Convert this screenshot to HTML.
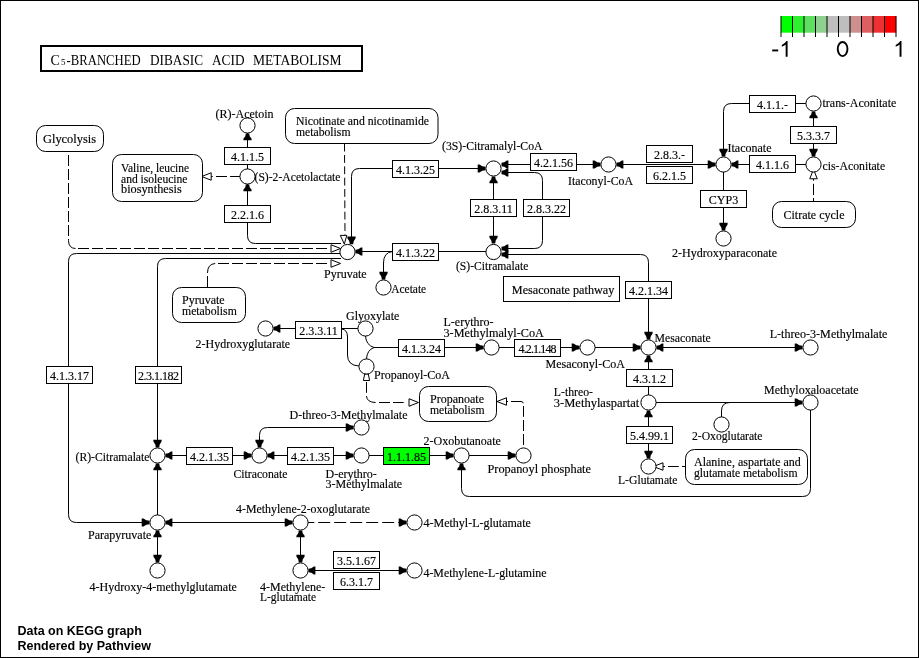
<!DOCTYPE html>
<html><head><meta charset="utf-8"><title>C5-Branched dibasic acid metabolism</title>
<style>
html,body{margin:0;padding:0;background:#fff;}
body{width:919px;height:658px;overflow:hidden;}
svg{display:block;font-family:"Liberation Serif",serif;font-size:12px;}
svg text{fill:#000;stroke:none;}
.t text{stroke:#000;stroke-width:0.15px;}
.e path{fill:none;stroke:#000;stroke-width:1;}
.e path.d{stroke-dasharray:12 4;}
.e path.d2{stroke-dasharray:7.8 3.54;}
.c{fill:#fff;stroke:#000;stroke-width:1;}
.b{fill:#fff;stroke:#000;stroke-width:1;}
.a{fill:#000;stroke:none;}
.bw{filter:grayscale(1);}
.o{fill:#fff;stroke:#000;stroke-width:1;}
.key{font-family:"Liberation Sans",sans-serif;font-size:21.5px;}
.ttl{font-size:14px;}
.ft{font-family:"Liberation Sans",sans-serif;font-weight:bold;font-size:12.5px;}
</style></head>
<body>
<svg width="919" height="658" viewBox="0 0 919 658">
<rect x="0.5" y="0.5" width="918" height="657" fill="#fff" stroke="#000"/>
<rect x="781.0" y="16" width="11.7" height="16.700000000000003" fill="#00ff00" stroke="none"/>
<rect x="792.5" y="16" width="11.7" height="16.700000000000003" fill="#30ef30" stroke="none"/>
<rect x="804.0" y="16" width="11.7" height="16.700000000000003" fill="#5fdf5f" stroke="none"/>
<rect x="815.5" y="16" width="11.7" height="16.700000000000003" fill="#8fcf8f" stroke="none"/>
<rect x="827.0" y="16" width="11.7" height="16.700000000000003" fill="#bebebe" stroke="none"/>
<rect x="838.5" y="16" width="11.7" height="16.700000000000003" fill="#bebebe" stroke="none"/>
<rect x="850.0" y="16" width="11.7" height="16.700000000000003" fill="#ce8f8f" stroke="none"/>
<rect x="861.5" y="16" width="11.7" height="16.700000000000003" fill="#de5f5f" stroke="none"/>
<rect x="873.0" y="16" width="11.7" height="16.700000000000003" fill="#ee3030" stroke="none"/>
<rect x="884.5" y="16" width="11.7" height="16.700000000000003" fill="#ff0000" stroke="none"/>
<line x1="781.0" y1="16" x2="781.0" y2="37" stroke="#000" stroke-width="1"/>
<line x1="792.5" y1="16" x2="792.5" y2="37" stroke="#000" stroke-width="1"/>
<line x1="804.0" y1="16" x2="804.0" y2="37" stroke="#000" stroke-width="1"/>
<line x1="815.5" y1="16" x2="815.5" y2="37" stroke="#000" stroke-width="1"/>
<line x1="827.0" y1="16" x2="827.0" y2="37" stroke="#000" stroke-width="1"/>
<line x1="838.5" y1="16" x2="838.5" y2="37" stroke="#000" stroke-width="1"/>
<line x1="850.0" y1="16" x2="850.0" y2="37" stroke="#000" stroke-width="1"/>
<line x1="861.5" y1="16" x2="861.5" y2="37" stroke="#000" stroke-width="1"/>
<line x1="873.0" y1="16" x2="873.0" y2="37" stroke="#000" stroke-width="1"/>
<line x1="884.5" y1="16" x2="884.5" y2="37" stroke="#000" stroke-width="1"/>
<line x1="896.0" y1="16" x2="896.0" y2="37" stroke="#000" stroke-width="1"/>
<rect x="772.2" y="49.5" width="6" height="1.9" fill="#000"/>
<path d="M787.60 56.80 H785.66 V44.48 Q784.96 45.14 783.83 45.81 Q782.70 46.48 781.80 46.81 V44.94 Q783.42 44.18 784.63 43.09 Q785.85 42.01 786.35 40.99 H787.60 Z" fill="#000"/>
<ellipse cx="842.6" cy="49.05" rx="4.85" ry="7.1" fill="none" stroke="#000" stroke-width="1.9"/>
<path d="M901.50 56.80 H899.56 V44.48 Q898.86 45.14 897.73 45.81 Q896.60 46.48 895.70 46.81 V44.94 Q897.32 44.18 898.53 43.09 Q899.75 42.01 900.25 40.99 H901.50 Z" fill="#000"/>
<g class="bw">
<rect x="41" y="46" width="321" height="25" fill="#fff" stroke="#000" stroke-width="2"/>
<g class="ttl">
<text x="50.5" y="65">C</text>
<text x="61" y="65" style="font-size:9px">5</text>
<text x="66.5" y="65" textLength="74.2" lengthAdjust="spacingAndGlyphs">-BRANCHED</text>
<text x="150" y="65" textLength="53" lengthAdjust="spacingAndGlyphs">DIBASIC</text>
<text x="212" y="65" textLength="32.5" lengthAdjust="spacingAndGlyphs">ACID</text>
<text x="253" y="65" textLength="88.5" lengthAdjust="spacingAndGlyphs">METABOLISM</text>
</g>
<g class="e">
<path d="M247.5 184 V205 M247.5 133 V147.5 M247.5 164.5 V169"/>
<path d="M247.5 222.5 V235.5 Q247.5 243.5 255.5 243.5 H341"/>
<path d="M210.7 176.5 H212.7 M216 176.5 H227 M230 176.5 H240"/>
<path d="M68.5 155 V166 M68.5 169 V180 M68.5 183 V194 M68.5 197 V208 M68.5 211 V222 M68.5 225 V236 M68.5 239 V240.5 Q68.5 248.3 75.5 248.5 M78 248.5 H89 M92 248.5 H103 M106 248.5 H117 M120 248.5 H131 M134 248.5 H145 M148 248.5 H159 M162 248.5 H173 M176 248.5 H187 M190 248.5 H201 M204 248.5 H215 M218 248.5 H229 M232 248.5 H243 M246 248.5 H257 M260 248.5 H271 M274 248.5 H285 M288 248.5 H299 M302 248.5 H313 M316 248.5 H327"/>
<path d="M344.5 143.7 L345 235" class="d2"/>
<path d="M392.5 168.5 H359.5 Q351.5 168.5 351.5 176.5 V237"/>
<path d="M438.5 168.5 H479"/>
<path d="M392.5 251.5 H360"/>
<path d="M392.5 251.5 Q383.5 252.5 383.5 263 V273"/>
<path d="M438.5 251.5 H486"/>
<path d="M493.5 182 V199.5 M493.5 216.5 V238"/>
<path d="M530.5 164.5 H506 M576.5 164.5 H594"/>
<path d="M506 172.5 H534.5 Q542.5 172.5 542.5 180.5 V199.5 M542.5 216.5 V240.5 Q542.5 248.5 534.5 248.5 H506"/>
<path d="M621 164.5 H709"/>
<path d="M806 164.5 H795.5 M749.5 164.5 H737"/>
<path d="M806 103.5 H795.5 M749.5 103.5 H731.5 Q723.5 103.5 723.5 111.5 V150"/>
<path d="M813.5 116 V126.5 M813.5 143.5 V150"/>
<path d="M723.5 172 V190.5 M723.5 207.5 V224"/>
<path d="M813.5 178.8 V180.7 M813.5 183.8 V195.1 M813.5 198 V201.5"/>
<path d="M506 254.5 H640.5 Q648.5 254.5 648.5 262.5 V281.5 M648.5 298.5 V333"/>
<path d="M295.5 328.5 H278 M341.5 328.5 H358"/>
<path d="M341.5 329 Q347.5 329.5 347.5 337 V355 Q347.5 365.5 359 366"/>
<path d="M365.5 336 Q366 345 374 347.5 H398.5"/>
<path d="M366.5 359 Q367 350 374 347.5"/>
<path d="M444.5 347.5 H477 M499 347.5 H514.5 M560.5 347.5 H573 M595 347.5 H634 M661 347.5 H796"/>
<path d="M648.5 360 V369.5 M648.5 386.5 V395 M648.5 415 V426.5 M648.5 443.5 V452"/>
<path d="M656 402.5 H796"/>
<path d="M721.5 417 V411 Q721.5 402.5 730 402.5"/>
<path d="M663 466.5 H665 M668 466.5 H678.8 M682 466.5 H685.5"/>
<path d="M810.5 410 V488.5 Q810.5 496.5 802.5 496.5 H469.5 Q461.5 496.5 461.5 488.5 V468"/>
<path d="M369 455.5 H383.5 M429.5 455.5 H447 M469 455.5 H509"/>
<path d="M506.2 401.5 H508 M511 401.5 H521 Q523 401.5 523.3 403.3 M523.5 406 V416.8 M523.5 420 V431 M523.5 434 V445"/>
<path d="M366.5 382 V392.8 M366.5 396 Q366.8 402.3 375.6 402.5 M379 402.5 H390 M393 402.5 H403.7"/>
<path d="M170 455.5 H186.5 M232.5 455.5 H245 M272 455.5 H287.5 M333.5 455.5 H347"/>
<path d="M259.5 441 V435.5 Q259.5 427.5 267.5 427.5 H347"/>
<path d="M341 258.5 H165.5 Q157.5 258.5 157.5 266.5 V366.5 M157.5 383.5 V441"/>
<path d="M340 253.5 H76.5 Q68.5 253.5 68.5 261.5 V366.5 M68.5 383.5 V514.5 Q68.5 522.5 76.5 522.5 H143"/>
<path d="M157.5 468 V515 M157.5 535 V556"/>
<path d="M170 522.5 H286"/>
<path d="M308 522.5 H314.3 M318.2 522.5 H330.2 M334.2 522.5 H346.2 M350.2 522.5 H362.2 M366.2 522.5 H378.2 M382.2 522.5 H394.2 M398.2 522.5 H400"/>
<path d="M300.5 535 V556"/>
<path d="M313 570.5 H400"/>
<path d="M207.5 287.5 V276 M207.5 273 Q207.5 264 215.2 263.5 M218 263.5 H229 M232 263.5 H243 M246 263.5 H257 M260 263.5 H271 M274 263.5 H285 M288 263.5 H299 M302 263.5 H313 M316 263.5 H327"/>
</g>
<polygon points="245.80,133.50 245.30,136.18 243.40,138.73 243.40,140.20 251.60,140.20 251.60,138.73 249.70,136.18 249.20,133.50" class="a"/>
<polygon points="245.80,184.50 245.30,187.18 243.40,189.73 243.40,191.20 251.60,191.20 251.60,189.73 249.70,187.18 249.20,184.50" class="a"/>
<polygon points="201.7,176.5 211.2,172.75 211.2,180.25" class="o"/>
<polygon points="340.5,248.5 331.0,244.75 331.0,252.25" class="o"/>
<polygon points="340.5,263.5 331.0,259.75 331.0,267.25" class="o"/>
<polygon points="344.3,244 340.3,235.4 346.8,235.4" class="o"/>
<polygon points="349.80,244.30 349.30,241.22 347.40,238.29 347.40,236.60 355.60,236.60 355.60,238.29 353.70,241.22 353.20,244.30" class="a"/>
<polygon points="485.50,166.80 482.38,166.30 479.42,164.40 477.70,164.40 477.70,172.60 479.42,172.60 482.38,170.70 485.50,170.20" class="a"/>
<polygon points="355.50,249.80 358.26,249.30 360.88,247.40 362.40,247.40 362.40,255.60 360.88,255.60 358.26,253.70 355.50,253.20" class="a"/>
<polygon points="381.80,279.50 381.30,276.42 379.40,273.49 379.40,271.80 387.60,271.80 387.60,273.49 385.70,276.42 385.20,279.50" class="a"/>
<polygon points="491.80,176.50 491.30,179.18 489.40,181.73 489.40,183.20 497.60,183.20 497.60,181.73 495.70,179.18 495.20,176.50" class="a"/>
<polygon points="491.80,243.50 491.30,240.42 489.40,237.49 489.40,235.80 497.60,235.80 497.60,237.49 495.70,240.42 495.20,243.50" class="a"/>
<polygon points="501.50,162.80 504.26,162.30 506.88,160.40 508.40,160.40 508.40,168.60 506.88,168.60 504.26,166.70 501.50,166.20" class="a"/>
<polygon points="600.50,162.80 597.38,162.30 594.42,160.40 592.70,160.40 592.70,168.60 594.42,168.60 597.38,166.70 600.50,166.20" class="a"/>
<polygon points="501.50,170.80 504.26,170.30 506.88,168.40 508.40,168.40 508.40,176.60 506.88,176.60 504.26,174.70 501.50,174.20" class="a"/>
<polygon points="501.50,246.80 504.26,246.30 506.88,244.40 508.40,244.40 508.40,252.60 506.88,252.60 504.26,250.70 501.50,250.20" class="a"/>
<polygon points="501.50,252.80 504.26,252.30 506.88,250.40 508.40,250.40 508.40,258.60 506.88,258.60 504.26,256.70 501.50,256.20" class="a"/>
<polygon points="616.50,162.80 619.26,162.30 621.88,160.40 623.40,160.40 623.40,168.60 621.88,168.60 619.26,166.70 616.50,166.20" class="a"/>
<polygon points="715.50,162.80 712.38,162.30 709.42,160.40 707.70,160.40 707.70,168.60 709.42,168.60 712.38,166.70 715.50,166.20" class="a"/>
<polygon points="731.50,162.80 734.26,162.30 736.88,160.40 738.40,160.40 738.40,168.60 736.88,168.60 734.26,166.70 731.50,166.20" class="a"/>
<polygon points="721.80,156.50 721.30,153.42 719.40,150.49 719.40,148.80 727.60,148.80 727.60,150.49 725.70,153.42 725.20,156.50" class="a"/>
<polygon points="811.80,111.50 811.30,114.18 809.40,116.73 809.40,118.20 817.60,118.20 817.60,116.73 815.70,114.18 815.20,111.50" class="a"/>
<polygon points="811.80,156.50 811.30,153.42 809.40,150.49 809.40,148.80 817.60,148.80 817.60,150.49 815.70,153.42 815.20,156.50" class="a"/>
<polygon points="721.80,230.50 721.30,227.42 719.40,224.49 719.40,222.80 727.60,222.80 727.60,224.49 725.70,227.42 725.20,230.50" class="a"/>
<polygon points="813.5,169.3 809.75,178.8 817.25,178.8" class="o"/>
<polygon points="646.80,339.50 646.30,336.42 644.40,333.49 644.40,331.80 652.60,331.80 652.60,333.49 650.70,336.42 650.20,339.50" class="a"/>
<polygon points="273.50,326.80 276.26,326.30 278.88,324.40 280.40,324.40 280.40,332.60 278.88,332.60 276.26,330.70 273.50,330.20" class="a"/>
<polygon points="483.50,345.80 480.38,345.30 477.42,343.40 475.70,343.40 475.70,351.60 477.42,351.60 480.38,349.70 483.50,349.20" class="a"/>
<polygon points="579.50,345.80 576.38,345.30 573.42,343.40 571.70,343.40 571.70,351.60 573.42,351.60 576.38,349.70 579.50,349.20" class="a"/>
<polygon points="640.50,345.80 637.38,345.30 634.42,343.40 632.70,343.40 632.70,351.60 634.42,351.60 637.38,349.70 640.50,349.20" class="a"/>
<polygon points="656.50,345.80 659.26,345.30 661.88,343.40 663.40,343.40 663.40,351.60 661.88,351.60 659.26,349.70 656.50,349.20" class="a"/>
<polygon points="802.50,345.80 799.38,345.30 796.42,343.40 794.70,343.40 794.70,351.60 796.42,351.60 799.38,349.70 802.50,349.20" class="a"/>
<polygon points="646.80,355.50 646.30,358.18 644.40,360.73 644.40,362.20 652.60,362.20 652.60,360.73 650.70,358.18 650.20,355.50" class="a"/>
<polygon points="646.80,410.50 646.30,413.18 644.40,415.73 644.40,417.20 652.60,417.20 652.60,415.73 650.70,413.18 650.20,410.50" class="a"/>
<polygon points="646.80,458.50 646.30,455.42 644.40,452.49 644.40,450.80 652.60,450.80 652.60,452.49 650.70,455.42 650.20,458.50" class="a"/>
<polygon points="802.50,400.80 799.38,400.30 796.42,398.40 794.70,398.40 794.70,406.60 796.42,406.60 799.38,404.70 802.50,404.20" class="a"/>
<polygon points="653.5,466.5 663.0,462.75 663.0,470.25" class="o"/>
<polygon points="459.80,463.50 459.30,466.18 457.40,468.73 457.40,470.20 465.60,470.20 465.60,468.73 463.70,466.18 463.20,463.50" class="a"/>
<polygon points="453.50,453.80 450.38,453.30 447.42,451.40 445.70,451.40 445.70,459.60 447.42,459.60 450.38,457.70 453.50,457.20" class="a"/>
<polygon points="515.50,453.80 512.38,453.30 509.42,451.40 507.70,451.40 507.70,459.60 509.42,459.60 512.38,457.70 515.50,457.20" class="a"/>
<polygon points="497,401.5 506.5,397.75 506.5,405.25" class="o"/>
<polygon points="418.5,402.5 409.0,398.75 409.0,406.25" class="o"/>
<polygon points="364.7,374 368.3,374 369.6,380.5 363.4,380.5" class="o"/>
<polygon points="165.50,453.80 168.26,453.30 170.88,451.40 172.40,451.40 172.40,459.60 170.88,459.60 168.26,457.70 165.50,457.20" class="a"/>
<polygon points="251.50,453.80 248.38,453.30 245.42,451.40 243.70,451.40 243.70,459.60 245.42,459.60 248.38,457.70 251.50,457.20" class="a"/>
<polygon points="267.50,453.80 270.26,453.30 272.88,451.40 274.40,451.40 274.40,459.60 272.88,459.60 270.26,457.70 267.50,457.20" class="a"/>
<polygon points="353.50,453.80 350.38,453.30 347.42,451.40 345.70,451.40 345.70,459.60 347.42,459.60 350.38,457.70 353.50,457.20" class="a"/>
<polygon points="257.80,447.50 257.30,444.42 255.40,441.49 255.40,439.80 263.60,439.80 263.60,441.49 261.70,444.42 261.20,447.50" class="a"/>
<polygon points="353.50,425.80 350.38,425.30 347.42,423.40 345.70,423.40 345.70,431.60 347.42,431.60 350.38,429.70 353.50,429.20" class="a"/>
<polygon points="155.80,447.50 155.30,444.42 153.40,441.49 153.40,439.80 161.60,439.80 161.60,441.49 159.70,444.42 159.20,447.50" class="a"/>
<polygon points="149.50,520.80 146.38,520.30 143.42,518.40 141.70,518.40 141.70,526.60 143.42,526.60 146.38,524.70 149.50,524.20" class="a"/>
<polygon points="155.80,463.50 155.30,466.18 153.40,468.73 153.40,470.20 161.60,470.20 161.60,468.73 159.70,466.18 159.20,463.50" class="a"/>
<polygon points="155.80,530.50 155.30,533.18 153.40,535.73 153.40,537.20 161.60,537.20 161.60,535.73 159.70,533.18 159.20,530.50" class="a"/>
<polygon points="155.80,562.50 155.30,559.42 153.40,556.49 153.40,554.80 161.60,554.80 161.60,556.49 159.70,559.42 159.20,562.50" class="a"/>
<polygon points="165.50,520.80 168.26,520.30 170.88,518.40 172.40,518.40 172.40,526.60 170.88,526.60 168.26,524.70 165.50,524.20" class="a"/>
<polygon points="292.50,520.80 289.38,520.30 286.42,518.40 284.70,518.40 284.70,526.60 286.42,526.60 289.38,524.70 292.50,524.20" class="a"/>
<polygon points="406.50,520.80 403.38,520.30 400.42,518.40 398.70,518.40 398.70,526.60 400.42,526.60 403.38,524.70 406.50,524.20" class="a"/>
<polygon points="298.80,530.50 298.30,533.18 296.40,535.73 296.40,537.20 304.60,537.20 304.60,535.73 302.70,533.18 302.20,530.50" class="a"/>
<polygon points="298.80,562.50 298.30,559.42 296.40,556.49 296.40,554.80 304.60,554.80 304.60,556.49 302.70,559.42 302.20,562.50" class="a"/>
<polygon points="308.50,568.80 311.26,568.30 313.88,566.40 315.40,566.40 315.40,574.60 313.88,574.60 311.26,572.70 308.50,572.20" class="a"/>
<polygon points="406.50,568.80 403.38,568.30 400.42,566.40 398.70,566.40 398.70,574.60 400.42,574.60 403.38,572.70 406.50,572.20" class="a"/>
<circle cx="247.5" cy="125.5" r="7.6" class="c"/>
<circle cx="247.5" cy="176.5" r="7.6" class="c"/>
<circle cx="347.5" cy="252" r="7.6" class="c"/>
<circle cx="383.5" cy="287.5" r="7.6" class="c"/>
<circle cx="493.5" cy="168.5" r="7.6" class="c"/>
<circle cx="608.5" cy="164.5" r="7.6" class="c"/>
<circle cx="723.5" cy="164.5" r="7.6" class="c"/>
<circle cx="813.5" cy="103.5" r="7.6" class="c"/>
<circle cx="813.5" cy="164.5" r="7.6" class="c"/>
<circle cx="723.5" cy="238.5" r="7.6" class="c"/>
<circle cx="493.5" cy="252" r="7.6" class="c"/>
<circle cx="265.5" cy="328.5" r="7.6" class="c"/>
<circle cx="365.5" cy="328.5" r="7.6" class="c"/>
<circle cx="366.5" cy="366.5" r="7.6" class="c"/>
<circle cx="491.5" cy="347.5" r="7.6" class="c"/>
<circle cx="587.5" cy="347.5" r="7.6" class="c"/>
<circle cx="648.5" cy="347.5" r="7.6" class="c"/>
<circle cx="810.5" cy="347.5" r="7.6" class="c"/>
<circle cx="648.5" cy="402.5" r="7.6" class="c"/>
<circle cx="810.5" cy="402.5" r="7.6" class="c"/>
<circle cx="721.5" cy="424.5" r="7.6" class="c"/>
<circle cx="648.5" cy="466.5" r="7.6" class="c"/>
<circle cx="157.5" cy="455.5" r="7.6" class="c"/>
<circle cx="259.5" cy="455.5" r="7.6" class="c"/>
<circle cx="361.5" cy="427.5" r="7.6" class="c"/>
<circle cx="361.5" cy="455.5" r="7.6" class="c"/>
<circle cx="461.5" cy="455.5" r="7.6" class="c"/>
<circle cx="523.5" cy="455.5" r="7.6" class="c"/>
<circle cx="157.5" cy="522.5" r="7.6" class="c"/>
<circle cx="157.5" cy="570.5" r="7.6" class="c"/>
<circle cx="300.5" cy="522.5" r="7.6" class="c"/>
<circle cx="414.5" cy="522.5" r="7.6" class="c"/>
<circle cx="300.5" cy="570.5" r="7.6" class="c"/>
<circle cx="414.5" cy="570.5" r="7.6" class="c"/>
<g class="t">
<text x="215.5" y="118.2">(R)-Acetoin</text>
<text x="254.5" y="180.5" textLength="86" lengthAdjust="spacingAndGlyphs">(S)-2-Acetolactate</text>
<text x="324" y="277.5">Pyruvate</text>
<text x="391.2" y="292.6" textLength="35" lengthAdjust="spacingAndGlyphs">Acetate</text>
<text x="442" y="150.0" textLength="100.5" lengthAdjust="spacingAndGlyphs">(3S)-Citramalyl-CoA</text>
<text x="568" y="185.0" textLength="65" lengthAdjust="spacingAndGlyphs">Itaconyl-CoA</text>
<text x="727.5" y="151.5">Itaconate</text>
<text x="822.5" y="106.7" textLength="73.8" lengthAdjust="spacingAndGlyphs">trans-Aconitate</text>
<text x="822.5" y="169.8" textLength="62.6" lengthAdjust="spacingAndGlyphs">cis-Aconitate</text>
<text x="672" y="256.5" textLength="105" lengthAdjust="spacingAndGlyphs">2-Hydroxyparaconate</text>
<text x="456" y="269.7" textLength="72.3" lengthAdjust="spacingAndGlyphs">(S)-Citramalate</text>
<text x="195.5" y="347.5">2-Hydroxyglutarate</text>
<text x="346" y="319.5">Glyoxylate</text>
<text x="374" y="379.0">Propanoyl-CoA</text>
<text x="443.5" y="326.0">L-erythro-</text>
<text x="443.5" y="337.0" textLength="100.3" lengthAdjust="spacingAndGlyphs">3-Methylmalyl-CoA</text>
<text x="545.5" y="368.0">Mesaconyl-CoA</text>
<text x="654.5" y="341.5" textLength="56.3" lengthAdjust="spacingAndGlyphs">Mesaconate</text>
<text x="769.7" y="337.7" textLength="117.7" lengthAdjust="spacingAndGlyphs">L-threo-3-Methylmalate</text>
<text x="553.8" y="395.5" textLength="39.2" lengthAdjust="spacingAndGlyphs">L-threo-</text>
<text x="553.8" y="406.5" textLength="85.5" lengthAdjust="spacingAndGlyphs">3-Methylaspartat</text>
<text x="764" y="394.0">Methyloxaloacetate</text>
<text x="692" y="440.0" textLength="70.5" lengthAdjust="spacingAndGlyphs">2-Oxoglutarate</text>
<text x="618" y="483.5" textLength="59.5" lengthAdjust="spacingAndGlyphs">L-Glutamate</text>
<text x="423.5" y="444.5">2-Oxobutanoate</text>
<text x="487.5" y="472.5" textLength="103.5" lengthAdjust="spacingAndGlyphs">Propanoyl phosphate</text>
<text x="289.5" y="418.5">D-threo-3-Methylmalate</text>
<text x="233.5" y="477.5" textLength="54" lengthAdjust="spacingAndGlyphs">Citraconate</text>
<text x="325.5" y="477.5">D-erythro-</text>
<text x="325.5" y="488.0">3-Methylmalate</text>
<text x="75.5" y="461.0" textLength="74" lengthAdjust="spacingAndGlyphs">(R)-Citramalate</text>
<text x="88" y="538.5">Parapyruvate</text>
<text x="89.5" y="590.5">4-Hydroxy-4-methylglutamate</text>
<text x="236" y="513.0" textLength="134" lengthAdjust="spacingAndGlyphs">4-Methylene-2-oxoglutarate</text>
<text x="423.5" y="526.5">4-Methyl-L-glutamate</text>
<text x="260" y="590.5">4-Methylene-</text>
<text x="260" y="600.5" textLength="56" lengthAdjust="spacingAndGlyphs">L-glutamate</text>
<text x="423.5" y="576.5" textLength="123" lengthAdjust="spacingAndGlyphs">4-Methylene-L-glutamine</text>
</g>
<g class="t">
<rect x="224.5" y="147.5" width="46" height="17" class="b"/>
<text x="247.5" y="160.8" text-anchor="middle">4.1.1.5</text>
<rect x="224.5" y="205.5" width="46" height="17" class="b"/>
<text x="247.5" y="218.8" text-anchor="middle">2.2.1.6</text>
<rect x="392.5" y="160.5" width="46" height="17" class="b"/>
<text x="415.5" y="173.8" text-anchor="middle">4.1.3.25</text>
<rect x="392.5" y="243.5" width="46" height="17" class="b"/>
<text x="415.5" y="256.8" text-anchor="middle">4.1.3.22</text>
<rect x="530.5" y="153.5" width="46" height="17" class="b"/>
<text x="553.5" y="166.8" text-anchor="middle">4.2.1.56</text>
<rect x="470.5" y="199.5" width="46" height="17" class="b"/>
<text x="493.5" y="212.8" text-anchor="middle">2.8.3.11</text>
<rect x="523.5" y="199.5" width="46" height="17" class="b"/>
<text x="546.5" y="212.8" text-anchor="middle">2.8.3.22</text>
<rect x="646.5" y="145.5" width="46" height="17" class="b"/>
<text x="669.5" y="158.8" text-anchor="middle">2.8.3.-</text>
<rect x="646.5" y="166.5" width="46" height="17" class="b"/>
<text x="669.5" y="179.8" text-anchor="middle">6.2.1.5</text>
<rect x="749.5" y="95.5" width="46" height="17" class="b"/>
<text x="772.5" y="108.8" text-anchor="middle">4.1.1.-</text>
<rect x="790.5" y="126.5" width="46" height="17" class="b"/>
<text x="813.5" y="139.8" text-anchor="middle">5.3.3.7</text>
<rect x="749.5" y="155.5" width="46" height="17" class="b"/>
<text x="772.5" y="168.8" text-anchor="middle">4.1.1.6</text>
<rect x="700.5" y="190.5" width="46" height="17" class="b"/>
<text x="723.5" y="203.8" text-anchor="middle">CYP3</text>
<rect x="625.5" y="281.5" width="46" height="17" class="b"/>
<text x="648.5" y="294.8" text-anchor="middle">4.2.1.34</text>
<rect x="295.5" y="321.5" width="46" height="17" class="b"/>
<text x="318.5" y="334.8" text-anchor="middle">2.3.3.11</text>
<rect x="398.5" y="339.5" width="46" height="17" class="b"/>
<text x="421.5" y="352.8" text-anchor="middle">4.1.3.24</text>
<rect x="514.5" y="339.5" width="46" height="17" class="b"/>
<text x="537.5" y="352.8" text-anchor="middle" textLength="38" lengthAdjust="spacing">4.2.1.148</text>
<rect x="626.5" y="369.5" width="46" height="17" class="b"/>
<text x="649.5" y="382.8" text-anchor="middle">4.3.1.2</text>
<rect x="626.5" y="426.5" width="46" height="17" class="b"/>
<text x="649.5" y="439.8" text-anchor="middle">5.4.99.1</text>
<rect x="46.5" y="366.5" width="46" height="17" class="b"/>
<text x="69.5" y="379.8" text-anchor="middle">4.1.3.17</text>
<rect x="135.5" y="366.5" width="46" height="17" class="b"/>
<text x="158.5" y="379.8" text-anchor="middle" textLength="41" lengthAdjust="spacing">2.3.1.182</text>
<rect x="186.5" y="447.5" width="46" height="17" class="b"/>
<text x="209.5" y="460.8" text-anchor="middle">4.2.1.35</text>
<rect x="287.5" y="447.5" width="46" height="17" class="b"/>
<text x="310.5" y="460.8" text-anchor="middle">4.2.1.35</text>
<rect x="333.5" y="551.5" width="46" height="17" class="b"/>
<text x="356.5" y="564.8" text-anchor="middle">3.5.1.67</text>
<rect x="333.5" y="572.5" width="46" height="17" class="b"/>
<text x="356.5" y="585.8" text-anchor="middle">6.3.1.7</text>
<rect x="36.5" y="125.5" width="67.0" height="26.0" rx="9" ry="9" class="b"/>
<text x="43" y="143.0" textLength="53" lengthAdjust="spacingAndGlyphs">Glycolysis</text>
<rect x="112.5" y="154.5" width="90.0" height="47.0" rx="9" ry="9" class="b"/>
<text x="121" y="171.5" textLength="68" lengthAdjust="spacingAndGlyphs">Valine, leucine</text>
<text x="121" y="182.5" textLength="66.5" lengthAdjust="spacingAndGlyphs">and isoleucine</text>
<text x="121" y="193.0" textLength="60.7" lengthAdjust="spacingAndGlyphs">biosynthesis</text>
<rect x="285.5" y="108.5" width="152.5" height="35.0" rx="9" ry="9" class="b"/>
<text x="296" y="124.5" textLength="133" lengthAdjust="spacingAndGlyphs">Nicotinate and nicotinamide</text>
<text x="296" y="135.5" textLength="54.5" lengthAdjust="spacingAndGlyphs">metabolism</text>
<rect x="172.5" y="287.5" width="73.0" height="35.0" rx="9" ry="9" class="b"/>
<text x="182" y="303.8">Pyruvate</text>
<text x="182" y="314.8" textLength="54.8" lengthAdjust="spacingAndGlyphs">metabolism</text>
<rect x="772.5" y="201.5" width="83.0" height="26.0" rx="9" ry="9" class="b"/>
<text x="783.5" y="218.5">Citrate cycle</text>
<rect x="419.5" y="386.5" width="77.0" height="35.0" rx="9" ry="9" class="b"/>
<text x="430" y="403.0">Propanoate</text>
<text x="430" y="413.8" textLength="54.5" lengthAdjust="spacingAndGlyphs">metabolism</text>
<rect x="685.5" y="449.5" width="122.0" height="35.0" rx="9" ry="9" class="b"/>
<text x="694" y="465.9" textLength="106.8" lengthAdjust="spacingAndGlyphs">Alanine, aspartate and</text>
<text x="694" y="476.9" textLength="103.5" lengthAdjust="spacingAndGlyphs">glutamate metabolism</text>
<rect x="503.5" y="276.5" width="116.0" height="25.0" rx="0" ry="0" class="b"/>
<text x="511.8" y="293.9" textLength="102.5" lengthAdjust="spacingAndGlyphs">Mesaconate pathway</text>
</g>
<g class="ft"><text x="17.5" y="634.5">Data on KEGG graph</text><text x="17.5" y="649.5">Rendered by Pathview</text></g>
</g>
<g class="t">
<rect x="383.5" y="447.5" width="46" height="17" class="b" style="fill:#00ff00"/>
<text x="406.5" y="460.8" text-anchor="middle">1.1.1.85</text>
</g>
</svg>
</body></html>
